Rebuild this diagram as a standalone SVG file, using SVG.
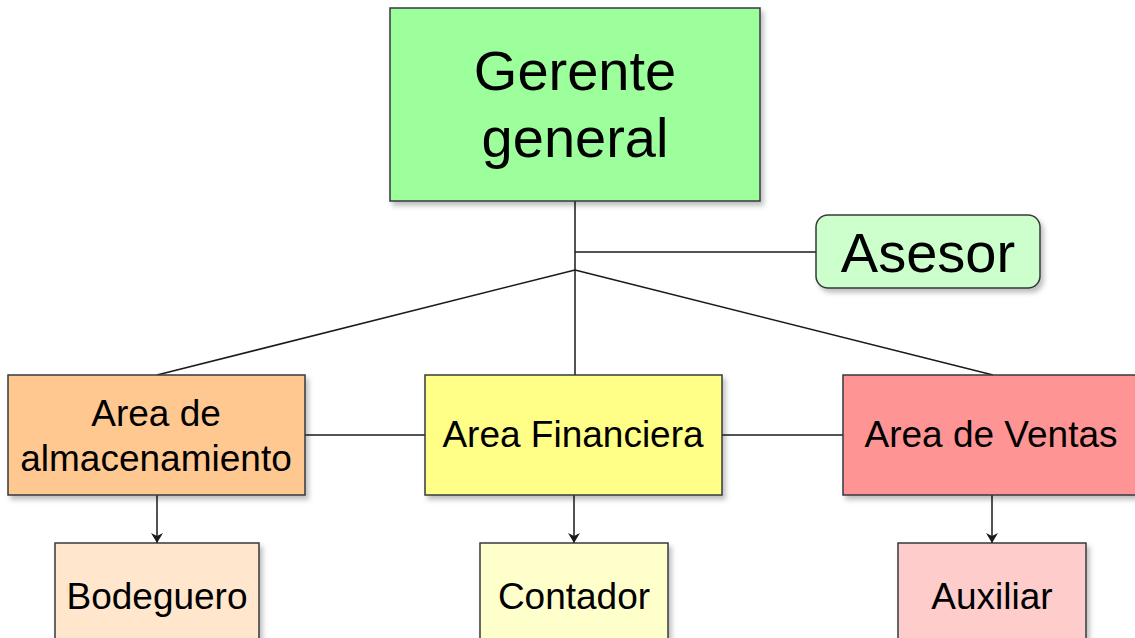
<svg xmlns="http://www.w3.org/2000/svg" width="1135" height="638" viewBox="0 0 1135 638">
<style>
.box{stroke:#36393d;stroke-width:1.5;filter:url(#sh)}
.t{font-family:"Liberation Sans",Arial,sans-serif;fill:#000;text-anchor:middle}
.big{font-size:56px}
.mid{font-size:37px}
.ln{stroke:#1a1a1a;stroke-width:1.5;fill:none}
</style>
<defs>
<filter id="sh" x="-10%" y="-10%" width="130%" height="140%">
<feDropShadow dx="3" dy="4" stdDeviation="2.5" flood-color="#000" flood-opacity="0.25"/>
</filter>
<marker id="ah" viewBox="0 0 10 12" refX="10" refY="6" markerWidth="12" markerHeight="12" markerUnits="userSpaceOnUse" orient="auto">
<path d="M0,0 L10,6 L0,12 L3,6 Z" fill="#1a1a1a"/>
</marker>
</defs>
<rect width="1135" height="638" fill="#fff"/>
<g id="connectors">
<line class="ln" x1="575" y1="201" x2="575" y2="375"/>
<line class="ln" x1="575" y1="252" x2="816" y2="252"/>
<line class="ln" x1="575" y1="270" x2="157" y2="375"/>
<line class="ln" x1="575" y1="270" x2="993" y2="375"/>
<line class="ln" x1="305" y1="435" x2="425" y2="435"/>
<line class="ln" x1="722" y1="435" x2="843" y2="435"/>
<line class="ln" x1="157" y1="495" x2="157" y2="543" marker-end="url(#ah)"/>
<line class="ln" x1="574" y1="495" x2="574" y2="543" marker-end="url(#ah)"/>
<line class="ln" x1="992" y1="495" x2="992" y2="543" marker-end="url(#ah)"/>
</g>
<g id="gerente">
<rect class="box" x="390" y="8" width="370" height="193" fill="#9cff9c"/>
<text class="t big" x="575" y="90">Gerente</text>
<text class="t big" x="575" y="157">general</text>
</g>
<g id="asesor">
<rect class="box" x="816" y="215" width="224" height="73" rx="12" fill="#ccffcc"/>
<text class="t big" x="928" y="272">Asesor</text>
</g>
<g id="almacenamiento">
<rect class="box" x="8" y="375" width="297" height="120" fill="#ffc891"/>
<text class="t mid" x="156" y="426">Area de</text>
<text class="t mid" x="156" y="471">almacenamiento</text>
</g>
<g id="financiera">
<rect class="box" x="425" y="375" width="297" height="120" fill="#ffff88"/>
<text class="t mid" x="573" y="447">Area Financiera</text>
</g>
<g id="ventas">
<rect class="box" x="843" y="375" width="297" height="120" fill="#ff9494"/>
<text class="t mid" x="991" y="447">Area de Ventas</text>
</g>
<g id="bodeguero">
<rect class="box" x="55" y="543" width="204" height="110" fill="#ffe6cc"/>
<text class="t mid" x="157" y="609">Bodeguero</text>
</g>
<g id="contador">
<rect class="box" x="480" y="543" width="188" height="110" fill="#ffffcc"/>
<text class="t mid" x="574" y="609">Contador</text>
</g>
<g id="auxiliar">
<rect class="box" x="898" y="543" width="188" height="110" fill="#ffcccc"/>
<text class="t mid" x="992" y="609">Auxiliar</text>
</g>
</svg>
